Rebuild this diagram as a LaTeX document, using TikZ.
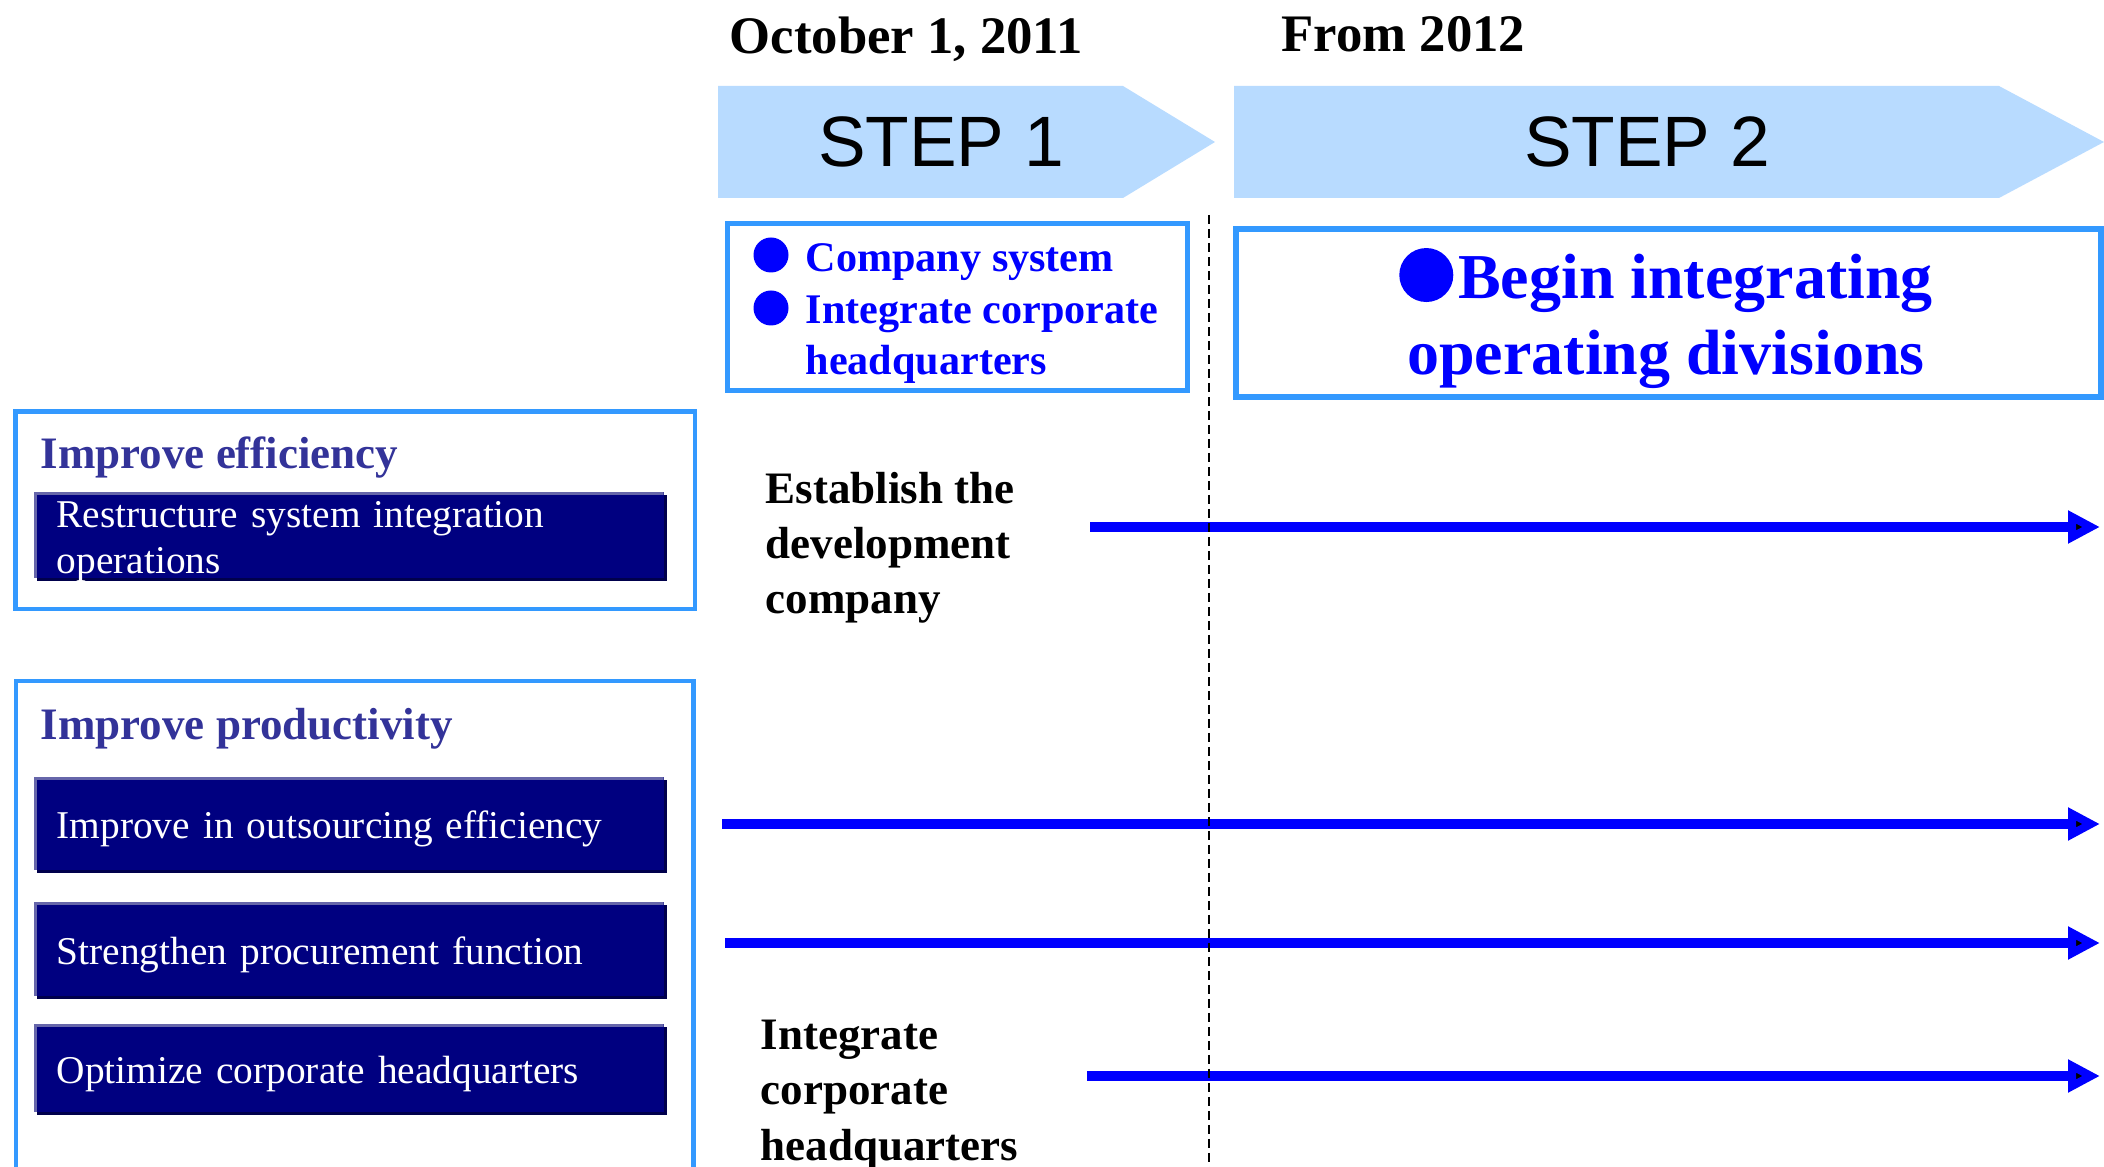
\documentclass[tikz,border=0pt]{standalone}
\usepackage{fontspec}
\setmainfont{Liberation Serif}
\newfontfamily\stepfont{Liberation Sans}
\usetikzlibrary{arrows.meta,shadows}

\definecolor{stepblue}{HTML}{B8DBFF}
\definecolor{frameblue}{HTML}{3399FF}
\definecolor{pureblue}{HTML}{0000FF}
\definecolor{headblue}{HTML}{333399}
\definecolor{barnavy}{HTML}{000080}
\definecolor{barlight}{HTML}{6666AA}
\definecolor{barshade}{HTML}{00004C}

\tikzset{
  date/.style={anchor=base west, inner sep=0pt, font=\bfseries\fontsize{15}{18}\selectfont},
  steplabel/.style={inner sep=0pt, font=\stepfont\fontsize{20.3}{24}\selectfont},
  frame/.style={draw=frameblue, line width=1.4pt},
  heading/.style={anchor=base west, inner sep=0pt, text=headblue, font=\bfseries\fontsize{12.8}{15}\selectfont},
  label/.style={anchor=base west, inner sep=0pt, align=left, font=\bfseries\fontsize{12.8}{15.65}\selectfont},
  task/.style={anchor=north west, fill=barnavy, text=white, minimum width=6.30cm,
    text width=5.84cm, align=left, inner xsep=0.21cm, inner ysep=0pt,
    font=\fontsize{11.2}{13.1}\selectfont, text height=0.33cm, text depth=0.02cm,
    drop shadow={shadow xshift=0.03cm, shadow yshift=-0.03cm, fill=barshade, opacity=1},
    path picture={
      \fill[barlight] (path picture bounding box.north west) rectangle ([yshift=-0.03cm]path picture bounding box.north east);
      \fill[barlight] (path picture bounding box.north west) rectangle ([xshift=0.03cm]path picture bounding box.south west);
    }},
  flow/.style={draw=pureblue, line width=0.1cm, -{Triangle[length=0.32cm,width=0.31cm]}},
  divider/.style={line width=0.5pt, dash pattern=on 0.09cm off 0.05cm}
}

\newcommand\stepdot{\tikz[baseline={(0,-0.23)}]\fill[pureblue] (0,0) circle (0.27);}

\begin{document}
\begin{tikzpicture}
\useasboundingbox (0,0) rectangle (21.04,-11.67);

% step banners
\fill[stepblue] (7.18,-0.86) -- (11.23,-0.86) -- (12.15,-1.42) -- (11.23,-1.98) -- (7.18,-1.98) -- cycle;
\fill[stepblue] (12.34,-0.86) -- (19.99,-0.86) -- (21.04,-1.42) -- (19.99,-1.98) -- (12.34,-1.98) -- cycle;
\node[steplabel] (step1) at (9.41,-1.42) {STEP 1};
\node[steplabel] (step2) at (16.47,-1.42) {STEP 2};
\node[date] (date1) at (7.29,-0.54) {October 1, 2011};
\node[date] (date2) at (12.81,-0.52) {From 2012};

\node[frame, minimum width=4.60cm, minimum height=1.67cm, inner sep=0pt] (s1box) at (9.575,-3.07) {};
\fill[pureblue] (7.71,-2.55) circle (0.175);
\fill[pureblue] (7.71,-3.08) circle (0.175);
\node[anchor=base west, inner sep=0pt, align=left, text=pureblue, font=\bfseries\fontsize{12}{14.65}\selectfont] (s1text) at (8.05,-3.745) {Company system\\Integrate corporate\\headquarters};

\node[frame, line width=1.7pt, minimum width=8.65cm, minimum height=1.68cm, inner sep=0pt] (s2box) at (16.685,-3.13) {};
\node[anchor=base, inner sep=0pt, align=center, text=pureblue, font=\bfseries\fontsize{18.2}{21.9}\selectfont] (s2text) at (16.66,-3.75) {\stepdot\hspace{0.05cm}Begin integrating\\operating divisions};

% left side
\draw[frame] (0.156,-4.117) rectangle (6.95,-6.09);
\node[heading] (eff) at (0.40,-4.69) {Improve efficiency};
\node[task, minimum height=0.86cm, text height=0.25cm, text depth=0.39cm] (sys) at (0.33,-4.91) {Restructure system integration\\operations};

\draw[frame] (0.16,-11.75) -- (0.16,-6.81) -- (6.935,-6.81) -- (6.935,-11.75);
\node[heading] (prod) at (0.40,-7.40) {Improve productivity};
\node[task, minimum height=0.93cm] (outs) at (0.33,-7.76) {Improve in outsourcing efficiency};
\node[task, minimum height=0.94cm] (proc) at (0.33,-9.01) {Strengthen procurement function};
\node[task, minimum height=0.88cm] (hq) at (0.33,-10.23) {Optimize corporate headquarters};

% right side
\node[label] (devco) at (7.65,-6.14) {Establish the\\development\\company};
\node[label] (hqint) at (7.60,-11.60) {Integrate\\corporate\\headquarters};

\coordinate (rim) at (21.00,0);
\foreach \n/\x/\y in {1/10.90/-5.27, 2/7.22/-8.24, 3/7.25/-9.43, 4/10.87/-10.76}
{
  \coordinate (f\n) at (\x,\y);
  \draw[flow] (f\n) -- (f\n -| rim);
}

\draw[divider] (12.09,-2.15) -- (12.09,-11.67);
\end{tikzpicture}
\end{document}
